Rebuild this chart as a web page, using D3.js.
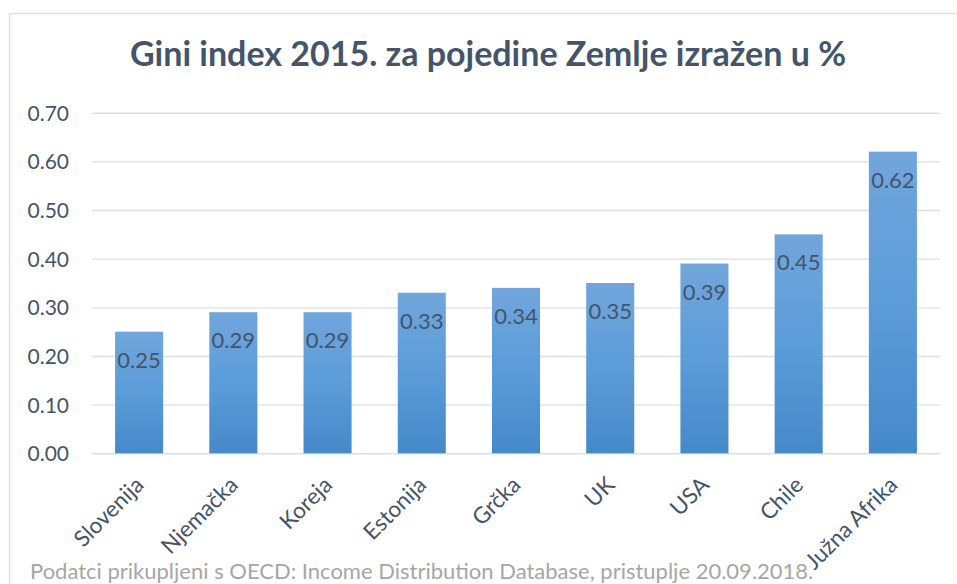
<!DOCTYPE html>
<html>
<head>
<meta charset="utf-8">
<script src="https://cdn.jsdelivr.net/npm/d3@7"></script>
<style>
  body { margin: 0; background: #fff; }
  text { font-family: Lato, "Open Sans", sans-serif; }
</style>
</head>
<body>
<div id="chart1"></div>
<script>
const countries = ["Slovenija", "Njemačka", "Koreja", "Estonija", "Grčka", "UK", "USA", "Chile", "Južna Afrika"];
const gini = [0.25, 0.29, 0.29, 0.33, 0.34, 0.35, 0.39, 0.45, 0.62];
const yTicks = [0, 0.1, 0.2, 0.3, 0.4, 0.5, 0.6, 0.7];
const title = "Gini index 2015. za pojedine Zemlje izražen u %";
const source = "Podatci prikupljeni s OECD: Income Distribution Database, pristuplje 20.09.2018.";

const width = 957;
const height = 584;
const margin = ({top: 112.7, right: 17, bottom: 130.7, left: 92});
const textColor = "#44546a";

const data = countries.map((c, i) => ({country: c, value: gini[i]}));

const svg = d3.select("#chart1")
    .append("svg")
    .attr("width", width)
    .attr("height", height)
    .attr("viewBox", [0, 0, width, height]);

// gradient fill like the office chart
const grad = svg.append("defs").append("linearGradient")
    .attr("id", "barFill")
    .attr("x1", 0).attr("y1", 0).attr("x2", 0).attr("y2", 1);
grad.append("stop").attr("offset", "0%").attr("stop-color", "#71a6dc");
grad.append("stop").attr("offset", "50%").attr("stop-color", "#5b9cd9");
grad.append("stop").attr("offset", "100%").attr("stop-color", "#4689c9");

// chart area frame (runs off the right and bottom edge)
svg.append("rect")
    .attr("x", 9.5).attr("y", 13.5)
    .attr("width", 1000).attr("height", 700)
    .attr("fill", "none")
    .attr("stroke", "#dfe2e7")
    .attr("stroke-width", 1.5);

const x = d3.scaleBand()
    .domain(countries)
    .range([margin.left, width - margin.right])
    .paddingInner(0.49)
    .paddingOuter(0.245);

const y = d3.scaleLinear()
    .domain([0, 0.7])
    .range([height - margin.bottom, margin.top]);

// gridlines
const grid = svg.append("g")
    .attr("transform", `translate(${margin.left},0)`)
    .call(d3.axisLeft(y).tickValues(yTicks).tickSize(-(width - margin.left - margin.right)).tickFormat(""));
grid.select(".domain").remove();
grid.selectAll("line").attr("stroke", "#dcdfe5").attr("stroke-width", 1.4);

// y axis labels
const yAxis = svg.append("g")
    .attr("transform", `translate(${margin.left},0)`)
    .call(d3.axisLeft(y).tickValues(yTicks).tickSize(0).tickPadding(23).tickFormat(d3.format(".2f")));
yAxis.select(".domain").remove();
yAxis.selectAll("text")
    .attr("fill", textColor)
    .style("font-size", "21px")
    .attr("dy", "0.36em");

// bars
const bar = svg.selectAll(".bar")
    .data(data)
    .join("g")
    .attr("class", "bar");

bar.append("rect")
    .attr("fill", "url(#barFill)")
    .attr("x", d => x(d.country))
    .attr("width", x.bandwidth())
    .attr("y", d => y(d.value))
    .attr("height", d => y(0) - y(d.value));

bar.append("text")
    .text(d => d.value.toFixed(2))
    .attr("x", d => x(d.country) + x.bandwidth() / 2)
    .attr("y", d => y(d.value) + 36)
    .attr("text-anchor", "middle")
    .attr("fill", textColor)
    .style("font-size", "22px");

// x axis labels, rotated
const xAxis = svg.append("g")
    .attr("transform", `translate(0,${height - margin.bottom})`)
    .call(d3.axisBottom(x).tickSize(0));
xAxis.select(".domain").remove();
xAxis.selectAll("text")
    .attr("x", 0).attr("y", 0).attr("dy", 0)
    .attr("text-anchor", "end")
    .attr("transform", "translate(6,33) rotate(-45)")
    .attr("fill", textColor)
    .style("font-size", "22.5px");

// title
svg.append("text")
    .attr("x", 488)
    .attr("y", 66)
    .attr("text-anchor", "middle")
    .attr("fill", textColor)
    .style("font-size", "34px")
    .style("font-weight", "bold")
    .text(title);

// source note at the bottom edge
svg.append("text")
    .attr("x", 30)
    .attr("y", 579)
    .attr("fill", "#a6a6a6")
    .style("font-size", "22px")
    .text(source);
</script>
</body>
</html>
